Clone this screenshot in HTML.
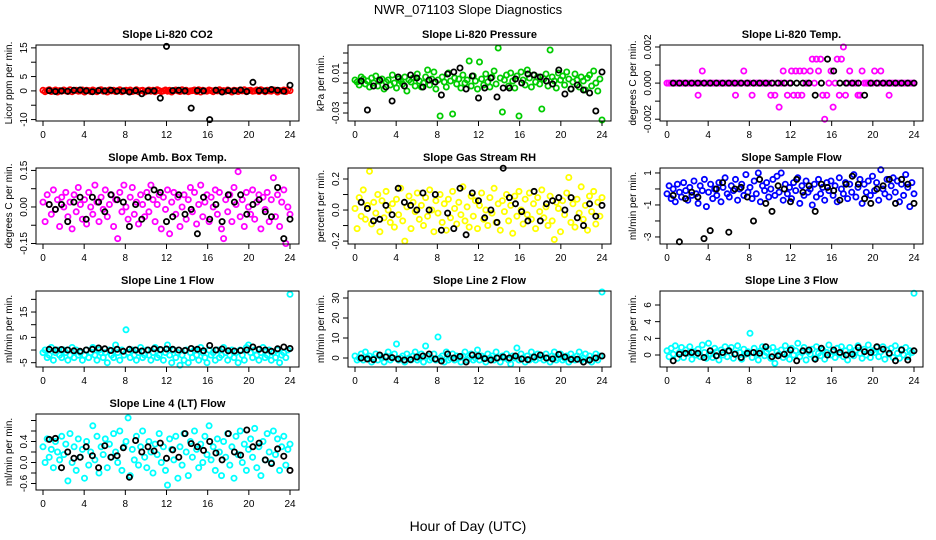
<!DOCTYPE html>
<html><head><meta charset="utf-8"><style>
body{margin:0;background:#fff;}
svg{display:block;font-family:"Liberation Sans",sans-serif;}
</style></head><body>
<svg id="chart" width="936" height="540" viewBox="0 0 936 540" xmlns="http://www.w3.org/2000/svg">
<text x="468" y="14" text-anchor="middle" font-size="13">NWR_071103  Slope Diagnostics</text>
<text x="468" y="531" text-anchor="middle" font-size="14">Hour of Day (UTC)</text>
</svg>
<script>
// ---- data arrays (x = hour of day, evenly sampled across 0..24) ----
const hourTicks = [0,4,8,12,16,20,24];
const p1Color = [0.2,-0.3,0.1,0.4,-0.2,0,0.3,-0.4,0.1,-0.1,0.3,0,-0.2,0.4,-0.3,0.1,0.2,-0.1,0,0.3,-0.4,0.2,0.1,-0.2,0.3,0,-0.3,0.2,0.4,-0.1,0.1,-0.4,0.3,0,0.2,-0.2,0.1,0.4,-0.3,0,0.2,-0.1,0.3,-0.2,0,0.4,-0.3,0.1,0.2,-0.4,0,0.3,-0.1,0.2,-0.3,0.4,0.1,-0.2,0,0.3,-0.1,0.2,-0.4,0.1,0.3,0,-0.2,0.4,-0.1,0.2,-0.3,0,0.1,0.3,-0.2,0.4,-0.4,0.2,0,-0.1,0.3,0.1,-0.3,0.2,0,0.4,-0.2,0.1,-0.1,0.3,0,-0.4,0.2,0.1,-0.2,0.3,0,0.4,-0.3,0.1,0.2,-0.1,0,0.3,-0.2,0.4,0.1,-0.3,0.2,0,-0.1,0.3,0.2,-0.4,0.1,0,0.3,-0.2,0.4,0.1];
const p1Black = [0.1,-0.2,0,-0.1,0.2,0.3,0,-0.3,0.1,0,0.2,-0.1,0,-0.4,0.1,-1,0,0,-2.5,15.5,0.1,0.2,0,-6,0.1,0,-10,0.2,-0.4,0.1,0,0.3,-0.2,3,0.1,0,0.5,0.2,-0.1,2];
const p2Color = [.003,.001,-.002,.006,.004,-.001,.002,-.004,.005,.000,.007,-.003,.002,.004,-.006,.001,.003,-.002,.008,.000,-.005,.004,.002,-.001,.006,-.008,.003,.001,.005,-.003,.009,.002,-.004,.000,.006,.013,-.002,.004,.011,-.006,.003,-.033,.006,.001,-.004,.010,.002,-.031,.005,-.001,.004,-.005,.008,.000,.003,.022,-.003,.007,.002,-.006,.021,.004,-.002,.009,.001,-.004,.006,.012,-.001,.035,.005,-.029,.003,.008,-.003,.010,.002,-.005,.007,-.033,.011,.003,-.002,.013,.005,-.004,.008,.001,.006,-.001,-.026,.004,.009,-.003,.033,.006,.002,-.005,.010,.003,.007,-.002,.011,.004,-.006,.001,.009,.003,-.004,.006,.002,-.007,.005,.008,-.003,.012,.000,-.008,.004,-.037];
const p2Black = [.002,-.027,-.003,.003,-.004,-.018,.006,-.003,.008,.005,-.004,.003,.001,-.012,.009,.011,.015,-.006,.007,-.015,-.005,.005,-.014,-.005,-.005,.004,.000,.009,.008,.006,.002,-.001,.013,-.011,-.006,-.002,-.007,-.010,-.028,.011];
const p3Color = [0,0,0,0,0,0,0,0,0,0, 0,0,0,0,0,-6.7e-4,0,6.7e-4,0,0, 0,0,0,0,0,0,0,0,0,0, 0,0,0,-6.7e-4,0,0,0,6.7e-4,0,0, 0,-6.7e-4,0,0,0,0,0,0,0,0, -6.7e-4,0,-6.7e-4,0,-1.33e-3,0,6.7e-4,0,-6.7e-4,0, 6.7e-4,-6.7e-4,6.7e-4,-6.7e-4,6.7e-4,-6.7e-4,6.7e-4,0,0,6.7e-4, 1.33e-3,0,1.33e-3,6.7e-4,1.33e-3,-6.7e-4,-2e-3,-6.7e-4,0,6.7e-4, -1.33e-3,0,1.33e-3,-6.7e-4,1.33e-3,2e-3,-6.7e-4,0,6.7e-4,0, 0,0,-6.7e-4,-6.7e-4,6.7e-4,0,0,0,0,0, 6.7e-4,0,0,6.7e-4,0,0,0,-6.7e-4,0,0, 0,0,0,0,0,0,0,0,0,0];
const p3Black = [0,0,0,0,0,0,0,0,0,0, 0,0,0,0,0,0,0,0,0,0, 0,0,0,-6.7e-4,0,1.33e-3,6.7e-4,0,0,0, 0,-6.7e-4,0,0,0,0,0,0,0,0];
const p4Color = [.02,-.06,.05,.01,-.03,.07,-.01,.03,-.08,.04,.00,.06,-.04,.02,-.09,.05,-.02,.08,.01,-.05,.03,-.07,.06,.00,-.03,.09,.02,-.06,.04,-.01,.07,-.04,.01,.05,-.08,.03,-.13,.06,-.02,.09,.00,-.05,.04,.08,-.03,.02,-.07,.05,.01,-.04,.06,-.02,.09,.03,-.06,.01,.05,-.09,.04,-.01,.07,-.11,.02,.06,-.03,.04,-.08,.00,.05,-.05,.03,.08,-.02,.06,-.07,.01,.09,-.04,.02,.05,-.06,.04,.00,.07,-.03,.06,-.09,-.13,.03,-.02,.05,-.06,.08,.01,.145,-.04,.03,-.08,.06,.00,-.03,.07,-.05,.02,.05,-.09,.04,-.01,.06,-.06,.03,.12,-.04,.05,-.08,.02,.07,-.15,.00,-.03];
const p4Black = [.01,-.01,.01,-.06,.02,.04,-.05,.04,.02,-.02,.05,.03,.02,-.08,.01,-.05,.04,.07,.06,-.06,-.04,.05,-.03,-.01,-.11,.04,-.05,.01,-.06,.05,.02,.05,-.03,.01,.03,-.02,-.04,.08,-.13,-.05];
const p5Color = [.01,-.12,.08,-.04,.13,-.06,.03,.25,-.09,.05,-.02,.10,-.14,.06,-.05,.12,.00,-.08,.04,-.11,.07,-.03,.14,-.07,-.20,.02,.09,-.12,.05,-.01,.11,-.06,.03,-.10,.08,-.04,.13,.00,-.14,.06,-.02,.10,-.08,.04,-.13,.07,-.05,.12,.01,-.09,.05,-.03,.15,-.07,.02,-.11,.09,-.04,.06,-.12,.03,.11,-.06,.00,-.10,.08,-.02,.14,-.08,.04,-.13,.06,-.01,.10,-.07,.03,-.15,.09,-.04,.12,.00,-.09,.07,-.03,.11,-.06,.04,-.12,.08,-.01,.13,-.05,.02,-.10,.09,-.07,-.19,.05,.01,-.14,.06,-.03,.11,.21,-.08,.04,-.11,.07,-.02,.15,-.06,.03,-.13,.09,-.01,.12,-.09,.05,-.04,.08];
const p5Black = [.05,.01,-.07,-.06,.03,-.03,.14,.05,.03,.00,.11,.00,.10,-.13,-.02,-.12,.14,-.16,.11,.06,-.05,.00,-.08,.27,.08,.04,-.01,-.07,.12,-.07,.04,.06,.08,.00,.08,-.05,-.10,.04,-.04,.03];
const p6Color = [-.3,.2,-.6,.0,-.8,.3,-.2,-.5,.4,-.1,-.7,.1,-.4,.5,-.3,-.9,.2,-.1,.6,-1.1,-.2,.3,-.6,.0,-.4,.4,-.8,.1,.7,-.3,-.5,.2,-.1,.6,-.7,.0,.3,-.4,.9,-.2,.1,-.6,.5,-.3,1.0,-.8,.2,-.1,.4,-.5,.0,.6,-.4,.8,-.2,1.0,-.7,.3,-.3,.1,-.6,.4,-.1,.7,-.9,.2,-.4,.5,-.2,.0,-1.0,.3,-.5,.6,-.3,.1,-.7,.4,-.1,.5,-.4,.2,-.8,.7,.0,-.3,.4,-.6,.3,-.2,.9,-.5,.1,.6,-.9,.3,-.2,.5,-.4,.8,-.1,.4,-.7,1.2,.0,-.3,.6,-.5,.2,.7,-.2,.5,-.8,.3,-.4,.9,.1,-1.1,.4,-.3];
const p6Black = [-.4,-3.3,-.6,-.2,-.5,-3.1,-2.6,.0,.4,-2.7,.0,.1,-.5,-2.0,.6,-.9,-1.4,.2,.0,-.8,.6,-.2,.2,-1.4,.3,.1,-.1,-.7,.3,.8,.3,-.6,-.9,.0,.2,.6,-.9,.6,.3,-.9];
const p7Color = [-1,0,-3,-2,1,-4,-1,0,-2,-3,0,-1,-4,-2,1,-3,0,-2,-1,-4,-2,0,-3,-1,1,-2,-4,0,-1,-3,-1,-5,0,-2,-3,2,-1,-4,0,-2,8,-1,-3,0,-2,-4,-1,1,-3,-2,0,-2,-4,-1,1,-3,-2,0,-4,-1,2,-2,-5,0,-3,-1,-6,-2,-4,0,-5,-1,-3,0,-2,-4,1,-1,-3,-5,0,-2,-1,-4,0,-3,-2,1,-1,-4,-2,0,-3,-1,-5,0,-2,-4,1,2,-1,-3,0,-2,-4,-1,1,-3,-2,0,-4,-1,-3,0,-5,-2,-1,-3,0,22];
const p7Black = [.3,0,.2,0,-.3,-.5,0,.3,.8,.5,-.2,.3,-.5,.3,0,-.4,0,.5,.2,.4,.3,0,-.2,.6,.3,-.3,1.8,0,.4,-.3,-.4,-.2,0,1.2,.3,0,-.5,.5,1.2,.6];
const p8Color = [1,-1,0,2,-1,3,0,1,-2,0,2,-1,1,0,-2,1,3,-1,0,2,7,-1,0,1,-2,2,0,-1,1,3,-1,0,2,-2,6,1,-1,0,2,-1,10.5,0,1,-2,3,-1,0,2,-1,1,0,-2,1,3,-1,0,2,-1,0,4,-1,1,0,-2,2,0,1,-1,3,0,-2,1,0,2,-1,-3,1,0,5,-1,2,0,-2,1,-1,3,0,-1,2,0,1,-1,2,0,-2,1,3,-1,0,2,-1,0,1,-2,2,0,-1,1,3,-1,0,2,-1,1,-2,0,2,-1,1,33];
const p8Black = [0,-.5,-.8,1.5,.5,.2,-.5,-1,-.8,.5,1,2,-.5,-1.5,2,0,.8,-2,1.5,1,-.3,-1,0,.5,0,1,-.5,-.8,.5,1.5,0,-.5,1.8,.5,-.7,-.6,-2,-1,0,1];
const p9Color = [.5,-.2,.8,.1,1.1,-.4,.3,.9,-.3,.6,.2,1.0,-.5,.4,.0,.7,-.2,1.2,.3,-.4,1.4,.1,-.3,.8,.4,-.6,.6,.0,1.0,-.2,.5,.9,-.4,.2,1.1,.3,-.5,.7,.1,.4,2.6,-.3,.8,.2,-.6,.5,1.0,-.1,.3,.7,-.4,.9,-1.0,.4,.1,.6,-.3,1.1,.2,-.5,.8,.0,.5,1.4,-.2,.3,.9,-.6,.4,.1,.7,-.4,1.0,.2,-.1,.6,-.5,.3,1.2,.0,.4,-.3,.8,.1,1.0,-.2,.5,-.6,.9,.3,-.1,.6,1.1,.2,-.4,.7,.0,1.2,-.3,.5,.3,.9,-.2,.4,1.0,-.5,.6,.1,.8,-.3,1.1,.2,-.4,.7,.0,.9,-.2,.5,.3,7.4];
const p9Black = [-.7,.1,.2,.3,.2,-.3,.5,-.1,.3,.5,.1,-.3,.2,.3,.2,1.0,-.2,-.1,.1,.6,-.7,.5,.6,-.5,.8,.0,.6,.3,.0,.1,.9,.4,.3,1.0,.7,.2,-.7,.6,-.6,.5];
const p10Color = [.1,-.2,.25,-.1,.05,-.3,.2,.0,-.15,.3,-.05,.15,-.55,.35,-.2,.1,-.35,.25,-.1,.05,-.5,.2,-.25,.0,.5,-.15,.3,-.4,.1,-.05,.25,-.3,.15,-.1,.35,.0,-.2,.4,-.35,.1,.2,.65,-.45,.05,-.15,.3,-.25,.1,.4,-.1,-.3,.2,.0,-.4,.15,-.05,.35,-.2,.1,-.35,-.63,.25,.05,-.15,.3,-.5,.1,-.25,.35,.0,-.45,.2,-.1,.4,.05,-.3,.15,-.2,.3,-.05,.5,-.15,.1,-.35,.25,.0,-.45,.2,-.1,.35,-.25,.1,-.5,.3,-.05,.4,-.2,.15,-.35,.05,.25,-.1,.45,-.3,.1,-.45,.2,-.15,.35,.0,-.2,.4,-.05,.25,-.35,.1,.3,-.25,.05,.15];
const p10Black = [.24,.26,-.3,.0,-.12,-.1,.1,-.07,-.3,.12,-.1,-.07,.08,-.48,.22,.0,.1,.02,.17,-.12,.04,-.1,.35,.16,.1,.03,.2,-.02,-.15,.35,.0,-.06,.42,.1,.17,-.15,-.22,.06,-.08,-.35];

const p1Ticks=[-10,-5,0,5,10,15], p1Labels=["-10","","0","5","","15"];
const p2Ticks=[-0.03,-0.02,-0.01,0,0.01,0.02,0.03], p2Labels=["-0.03","","","","0.01","",""];
const p3Ticks=[-0.002,-0.001,0,0.001,0.002], p3Labels=["-0.002","","0.000","","0.002"];
const p4Ticks=[-0.15,-0.075,0,0.075,0.15], p4Labels=["-0.15","","0.00","","0.15"];
const p5Ticks=[-0.2,-0.1,0,0.1,0.2], p5Labels=["-0.2","","0.0","","0.2"];
const p6Ticks=[-3,-2,-1,0,1], p6Labels=["-3","","-1","","1"];
const p7Ticks=[-5,0,5,10,15,20], p7Labels=["-5","","5","","15",""];
const p8Ticks=[0,10,20,30], p8Labels=["0","10","20","30"];
const p9Ticks=[0,2,4,6], p9Labels=["0","2","4","6"];
const p10Ticks=[-0.6,-0.4,-0.2,0,0.2,0.4,0.6], p10Labels=["-0.6","","0.0","","0.4","",""];

const panels = [
 {name:"co2",title:"Slope Li-820 CO2",yl:"Licor ppm per min.",col:0,row:0,ymin:-10.5,ymax:16.0,color:"#ff0000",c:p1Color,k:p1Black,t:p1Ticks,tl:p1Labels},
 {name:"pressure",title:"Slope Li-820 Pressure",yl:"kPa per min.",col:1,row:0,ymin:-0.038,ymax:0.038,color:"#00cc00",c:p2Color,k:p2Black,t:p2Ticks,tl:p2Labels},
 {name:"li820-temp",title:"Slope Li-820 Temp.",yl:"degrees C per min.",col:2,row:0,ymin:-0.0021,ymax:0.00211,color:"#ff00ff",c:p3Color,k:p3Black,t:p3Ticks,tl:p3Labels},
 {name:"amb-box-temp",title:"Slope Amb. Box Temp.",yl:"degrees C per min.",col:0,row:1,ymin:-0.152,ymax:0.160,color:"#ff00ff",c:p4Color,k:p4Black,t:p4Ticks,tl:p4Labels},
 {name:"gas-stream-rh",title:"Slope Gas Stream RH",yl:"percent per min.",col:1,row:1,ymin:-0.219,ymax:0.271,color:"#ffff00",c:p5Color,k:p5Black,t:p5Ticks,tl:p5Labels},
 {name:"sample-flow",title:"Slope Sample Flow",yl:"ml/min per min.",col:2,row:1,ymin:-3.44,ymax:1.31,color:"#0000ff",c:p6Color,k:p6Black,t:p6Ticks,tl:p6Labels},
 {name:"line1-flow",title:"Slope Line 1 Flow",yl:"ml/min per min.",col:0,row:2,ymin:-6.7,ymax:23.3,color:"#00ffff",c:p7Color,k:p7Black,t:p7Ticks,tl:p7Labels},
 {name:"line2-flow",title:"Slope Line 2 Flow",yl:"ml/min per min.",col:1,row:2,ymin:-4.5,ymax:33.5,color:"#00ffff",c:p8Color,k:p8Black,t:p8Ticks,tl:p8Labels},
 {name:"line3-flow",title:"Slope Line 3 Flow",yl:"ml/min per min.",col:2,row:2,ymin:-1.44,ymax:7.68,color:"#00ffff",c:p9Color,k:p9Black,t:p9Ticks,tl:p9Labels},
 {name:"line4-flow",title:"Slope Line 4 (LT) Flow",yl:"ml/min per min.",col:0,row:3,ymin:-0.724,ymax:0.724,color:"#00ffff",c:p10Color,k:p10Black,t:p10Ticks,tl:p10Labels}
];

const NS="http://www.w3.org/2000/svg";
const svg=document.getElementById('chart');
function mk(tag,attrs,parent){const e=document.createElementNS(NS,tag);for(const a in attrs)e.setAttribute(a,attrs[a]);parent.appendChild(e);return e;}

panels.forEach(p=>{
  const boxL=36+p.col*312, boxR=299+p.col*312;
  const x0=43+p.col*312, x24=290+p.col*312;
  const boxT=45+p.row*123, boxB=121+p.row*123;
  const xs=h=>x0+(x24-x0)*h/24;
  const ys=v=>boxB-(v-p.ymin)/(p.ymax-p.ymin)*(boxB-boxT);
  const g=mk('g',{},svg);
  
  
  const t=mk('text',{x:(boxL+boxR)/2,y:boxT-7,'text-anchor':'middle','font-size':'11','font-weight':'bold'},g);
  t.textContent=p.title;
  
  
  const yl=mk('text',{transform:`translate(${boxL-24},${(boxT+boxB)/2}) rotate(-90)`,'text-anchor':'middle','font-size':'10'},g);
  yl.textContent=p.yl;
  
  
  const pg=mk('g',{fill:'none','stroke-width':'1.8'},g);
  
  
  const nc=p.c.length;
  p.c.forEach((v,i)=>{
    const c=mk('circle',{cx:xs(i*24/(nc-1)).toFixed(1),cy:ys(v).toFixed(1),r:2.6,stroke:p.color},pg);
    
    
  });
  const nk=p.k.length;
  p.k.forEach((v,i)=>{
    const c=mk('circle',{cx:xs(0.6+i*23.4/(nk-1)).toFixed(1),cy:ys(v).toFixed(1),r:2.6,stroke:'#000'},pg);
    
    
  });
  const b=mk('rect',{x:boxL,y:boxT,width:boxR-boxL,height:boxB-boxT,fill:'none',stroke:'#000','stroke-width':'1'},g);
  
  
  const xa=mk('g',{stroke:'#000','stroke-width':'1'},g);
  
  
  hourTicks.forEach(h=>{
    mk('line',{x1:xs(h),x2:xs(h),y1:boxB,y2:boxB+5},xa);
    const tx=mk('text',{x:xs(h),y:boxB+17,'text-anchor':'middle','font-size':'10',stroke:'none',fill:'#000'},g);
    tx.textContent=h;
    
    
  });
  const ya=mk('g',{stroke:'#000','stroke-width':'1'},g);
  
  
  p.t.forEach((v,i)=>{
    const y=ys(v);
    mk('line',{x1:boxL-5,x2:boxL,y1:y,y2:y},ya);
    if(p.tl[i]){
      const tx=mk('text',{transform:`translate(${boxL-9},${y}) rotate(-90)`,'text-anchor':'middle','font-size':'10'},g);
      tx.textContent=p.tl[i];
      
      
    }
  });
});
</script>
</body></html>
